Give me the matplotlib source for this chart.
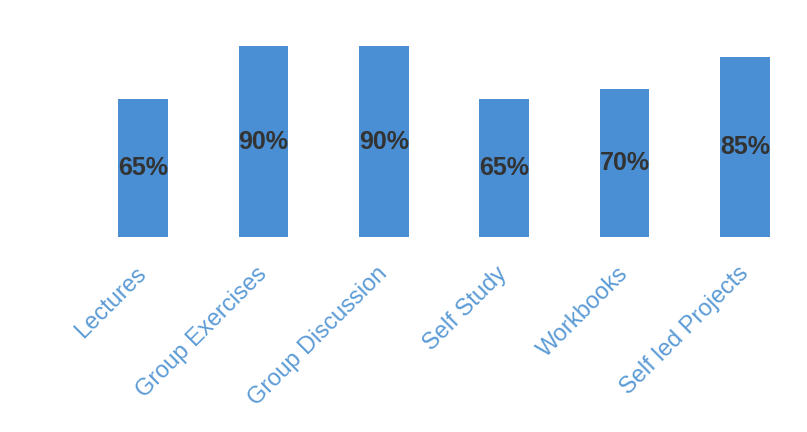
import matplotlib.pyplot as plt

categories = ['Lectures', 'Group Exercises', 'Group Discussion', 'Self Study', 'Workbooks', 'Self led Projects']
values = [65, 90, 90, 65, 70, 85]
labels = ['65%', '90%', '90%', '65%', '70%', '85%']

plt.rcParams['font.family'] = ['Liberation Sans', 'DejaVu Sans']

fig = plt.figure(figsize=(8.07, 4.32), dpi=100)
ax = fig.add_axes([83 / 807, 195 / 432, 722 / 807, 212 / 432])

x = range(len(categories))
bars = ax.bar(x, values, width=0.41, color='#4a8fd4')

for b, lab in zip(bars, labels):
    ax.text(b.get_x() + b.get_width() / 2, b.get_height() / 2, lab,
            ha='center', va='center', fontsize=18, fontweight='bold', color='#333333')

ax.set_xlim(-0.5, 5.5)
ax.set_ylim(0, 100)
ax.set_xticks(list(x))
ax.set_xticklabels(categories, rotation=45, ha='right', va='center',
                   rotation_mode='anchor', fontsize=17, color='#5b9bd5')
ax.tick_params(axis='x', length=0, pad=24)
ax.set_yticks([])
for s in ax.spines.values():
    s.set_visible(False)

fig.savefig('out.png', dpi=100)
